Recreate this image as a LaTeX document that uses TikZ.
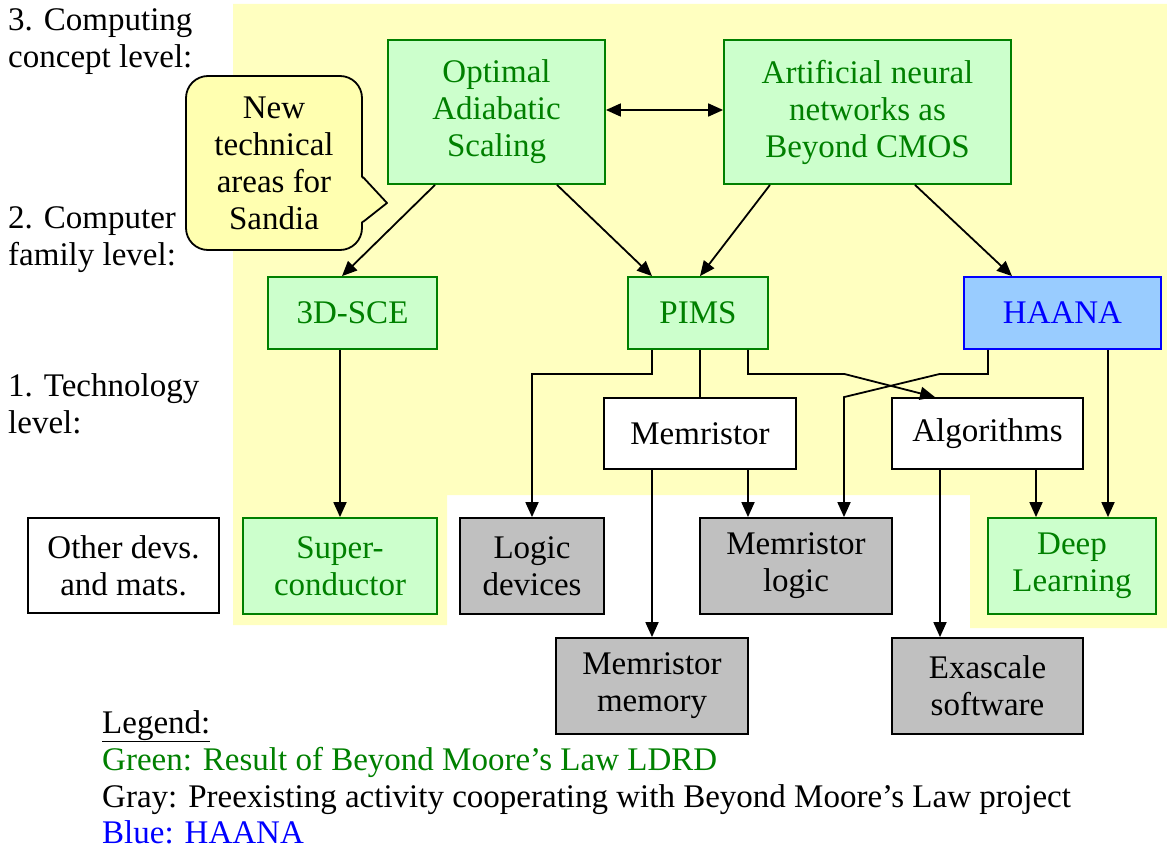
\documentclass[tikz,border=0pt]{standalone}
\usepackage{fontspec}
\setmainfont{Liberation Serif}
\usetikzlibrary{positioning,arrows.meta}

\definecolor{bgyellow}{RGB}{255,255,192}
\definecolor{noteyellow}{RGB}{255,255,176}
\definecolor{dgreen}{RGB}{0,128,0}
\definecolor{lgreen}{RGB}{204,255,204}
\definecolor{lblue}{RGB}{153,204,255}
\definecolor{lgray}{RGB}{192,192,192}

\begin{document}
\begin{tikzpicture}[x=1pt, y=-1pt, >={Triangle[width=13pt,length=15pt]},
  every node/.style={font=\fontsize{33}{37}\selectfont},
  box/.style={draw, line width=1.8pt, align=center, inner sep=0pt},
  greenbox/.style={box, draw=dgreen, fill=lgreen, text=dgreen},
  graybox/.style={box, fill=lgray},
  whitebox/.style={box, fill=white},
  link/.style={line width=1.8pt}]

  \useasboundingbox (0,0) rectangle (1167,848);

  % Yellow area of the new work
  \fill[bgyellow] (233,4) -- (1167,4) -- (1167,628) -- (970,628) -- (970,495)
    -- (447,495) -- (447,625) -- (233,625) -- cycle;

  % Level labels on the left (base = last line)
  \node[anchor=base west, align=left, inner sep=0pt] (lev3) at (8,68) {3. Computing\\concept level:};
  \node[anchor=base west, align=left, inner sep=0pt] (lev2) at (8,265) {2. Computer\\family level:};
  \node[anchor=base west, align=left, inner sep=0pt] (lev1) at (8,433) {1. Technology\\level:};

  % Level 3: computing concepts
  \node[greenbox, minimum width=217pt, minimum height=144pt] (oas) at (496.5,112) {Optimal\\Adiabatic\\Scaling};
  \node[greenbox, minimum width=287pt, minimum height=144pt] (ann) at (867.5,112) {Artificial neural\\networks as\\Beyond CMOS};

  % Callout
  \node[box, fill=noteyellow, rounded corners=22pt, minimum width=176pt, minimum height=174pt] (note) at (274,163) {New\\technical\\areas for\\Sandia};
  \coordinate (tip) at (387,203);
  \fill[noteyellow] ([shift={(-2,14)}]note.east) -- (tip) -- ([shift={(-2,59)}]note.east) -- cycle;
  \draw[link, line join=round] ([shift={(0,14)}]note.east) -- (tip) -- ([shift={(0,59)}]note.east);

  % Level 2: computer families
  \node[greenbox, minimum width=169pt, minimum height=72pt] (sce) at (352.5,313) {3D-SCE};
  \node[greenbox, minimum width=140pt, minimum height=72pt] (pims) at (698,313) {PIMS};
  \node[box, draw=blue, fill=lblue, text=blue, minimum width=197pt, minimum height=72pt] (haana) at (1062.5,313) {HAANA};

  % Level 1: technologies
  \node[whitebox, minimum width=192pt, minimum height=71pt] (memr) at (700,433.5) {Memristor};
  \node[whitebox, minimum width=191pt, minimum height=71pt] (algo) at (987.5,433.5) {Algorithms};

  \node[whitebox, minimum width=191pt, minimum height=95pt] (other) at (123.5,565.5) {Other devs.\\and mats.};
  \node[greenbox, minimum width=194pt, minimum height=96pt] (supc) at (340,566) {Super-\\conductor};
  \node[graybox, minimum width=144pt, minimum height=96pt] (logic) at (532,566) {Logic\\devices};
  \node[graybox, minimum width=192pt, minimum height=96pt] (mlogic) at (796,566) {Memristor\\logic};
  \node[greenbox, minimum width=168pt, minimum height=96pt] (deep) at (1072,566) {Deep\\Learning};

  \node[graybox, minimum width=192pt, minimum height=96pt] (mmem) at (652,686) {Memristor\\memory};
  \node[graybox, minimum width=191pt, minimum height=96pt] (exa) at (987.5,686) {Exascale\\software};

  % Connectors
  \draw[link, <->] (oas.east |- 0,110) -- (ann.west |- 0,110);
  \draw[link, ->] ([xshift=-61.5pt]oas.south) -- ([xshift=-10.5pt]sce.north);
  \draw[link, ->] ([xshift=60.5pt]oas.south) -- ([xshift=-46pt]pims.north);
  \draw[link, ->] ([xshift=-97.5pt]ann.south) -- ([xshift=2pt]pims.north);
  \draw[link, ->] ([xshift=47.5pt]ann.south) -- ([xshift=-50.5pt]haana.north);

  \draw[link, ->] (supc.north |- sce.south) -- (supc.north);
  \draw[link, ->] ([xshift=-46pt]pims.south) -- ++(0,24) -| (logic.north);
  \draw[link] (memr.north |- pims.south) -- (memr.north);
  \draw[link, ->] ([xshift=50pt]pims.south) -- ++(0,24) -- ++(96,0) -- ([xshift=-52.5pt]algo.north);

  \coordinate (hm) at ([xshift=48pt]mlogic.north);
  \draw[link, ->] ([xshift=-74.5pt]haana.south) -- ++(0,24) -- ++(-48,0) -- (hm |- memr.north) -- (hm);
  \draw[link, ->] ([xshift=36pt]deep.north |- haana.south) -- ([xshift=36pt]deep.north);

  \draw[link, ->] ([xshift=48pt]memr.south) -- ([xshift=-48pt]mlogic.north);
  \draw[link, ->] (mmem.north |- memr.south) -- (mmem.north);
  \draw[link, ->] ([xshift=48.5pt]algo.south) -- ([xshift=-36pt]deep.north);
  \draw[link, ->] ([xshift=-47.5pt]algo.south) -- ([xshift=-47.5pt]exa.north);

  % Legend
  \node[anchor=base west, inner sep=0pt] (legtitle) at (102,733) {\underline{Legend:}};
  \node[anchor=base west, inner sep=0pt, text=dgreen] (leggreen) at (102,770) {Green: Result of Beyond Moore’s Law LDRD};
  \node[anchor=base west, inner sep=0pt] (leggray) at (102,807) {Gray: Preexisting activity cooperating with Beyond Moore’s Law project};
  \node[anchor=base west, inner sep=0pt, text=blue] (legblue) at (102,843) {Blue: HAANA};

\end{tikzpicture}
\end{document}
